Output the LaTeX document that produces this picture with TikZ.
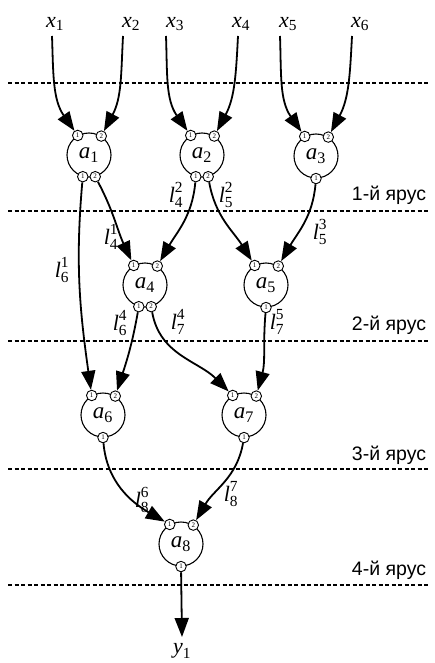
\documentclass[tikz,border=0pt]{standalone}
\usepackage{amsmath}
\usepackage{fontspec}
\setmainfont{Liberation Serif}
\newfontfamily\tierfont{Liberation Sans}
\usetikzlibrary{arrows.meta}

\newcommand\vlab[3]{$\textit{#1}^{\text{#2}}_{\text{#3}}$}
\newcommand\slab[2]{$\textit{#1}_{\text{#2}}$}

\begin{document}
\begin{tikzpicture}[x=1pt,y=1pt,
  elem/.style={circle,draw,line width=1.1pt,minimum size=44pt,inner sep=0pt,
    font=\fontsize{23}{26}\selectfont},
  port/.style={circle,draw,fill=white,line width=0.9pt,minimum size=10.5pt,
    inner sep=0pt,font=\fontsize{7}{7}\selectfont},
  wire/.style={line width=1.8pt,-{Triangle[length=19pt,width=14pt]}},
  lbl/.style={font=\fontsize{22}{25}\selectfont,inner sep=0pt},
  tier/.style={font=\tierfont\fontsize{19.5}{22}\selectfont,inner sep=0pt},
  level/.style={line width=1.1pt,dash pattern=on 4pt off 2.5pt}
]
\useasboundingbox (0,0) rectangle (434,-663);

% tier separators
\foreach \n/\y in {1/83,2/211,3/341,4/469,5/585}{
  \coordinate (d\n l) at (8,-\y);
  \coordinate (d\n r) at (430,-\y);
  \draw[level] (d\n l) -- (d\n r);
}

% tier captions
\node[tier] (t1) at (389,-195) {1-й ярус};
\node[tier] (t2) at (389,-325) {2-й ярус};
\node[tier] (t3) at (389,-455) {3-й ярус};
\node[tier] (t4) at (389,-570) {4-й ярус};

% inputs
\node[lbl] (x1) at (55,-24) {\slab{x}{1}};
\node[lbl] (x2) at (131,-24) {\slab{x}{2}};
\node[lbl] (x3) at (175,-24) {\slab{x}{3}};
\node[lbl] (x4) at (241,-24) {\slab{x}{4}};
\node[lbl] (x5) at (288,-24) {\slab{x}{5}};
\node[lbl] (x6) at (360,-24) {\slab{x}{6}};
\coordinate (s1) at (52,-36);
\coordinate (s2) at (123,-36);
\coordinate (s3) at (166,-36);
\coordinate (s4) at (238,-36);
\coordinate (s5) at (280,-36);
\coordinate (s6) at (352,-36);

% elements with two inputs and two outputs
\foreach \nm/\px/\py/\k in {a1/89/155/1,a2/202/155/2,a4/145/285/4}{
  \node[elem] (\nm) at (\px,-\py) {\slab{a}{\k}};
  \node[port] (\nm i1) at (\nm.120) {1};
  \node[port] (\nm i2) at (\nm.57) {2};
  \node[port] (\nm o1) at (\nm.-106) {1};
  \node[port] (\nm o2) at (\nm.-74) {2};
}
% elements with two inputs and one output
\foreach \nm/\px/\py/\k in {a3/316/156/3,a5/266/285/5,a6/103/415/6,a7/244/415/7,a8/181/544/8}{
  \node[elem] (\nm) at (\px,-\py) {\slab{a}{\k}};
  \node[port] (\nm i1) at (\nm.120) {1};
  \node[port] (\nm i2) at (\nm.57) {2};
  \node[port] (\nm o1) at (\nm.-90) {1};
}

% input wires
\draw[wire] (s1) to[out=-88,in=125] (a1i1);
\draw[wire] (s2) to[out=-93,in=62] (a1i2);
\draw[wire] (s3) to[out=-88,in=125] (a2i1);
\draw[wire] (s4) to[out=-93,in=62] (a2i2);
\draw[wire] (s5) to[out=-88,in=125] (a3i1);
\draw[wire] (s6) to[out=-93,in=62] (a3i2);

% links between elements
\draw[wire] (a1o1) to[out=-95,in=98] (a6i1);
\draw[wire] (a1o2) to[out=-62,in=115] (a4i1);
\draw[wire] (a2o1) to[out=-95,in=60] (a4i2);
\draw[wire] (a2o2) to[out=-80,in=122] (a5i1);
\draw[wire] (a3o1) to[out=-95,in=60] (a5i2);
\draw[wire] (a4o1) to[out=-100,in=72] (a6i2);
\draw[wire] (a4o2) to[out=-80,in=135] (a7i1);
\draw[wire] (a5o1) to[out=-95,in=75] (a7i2);
\draw[wire] (a6o1) to[out=-85,in=150] (a8i1);
\draw[wire] (a7o1) to[out=-100,in=60] (a8i2);

% output
\coordinate (yend) at (182,-637);
\draw[wire] (a8o1) -- (yend);
\node[lbl] (y1) at (182,-651) {\slab{y}{1}};

% link labels
\node[lbl] (l61) at (62,-270) {\vlab{l}{1}{6}};
\node[lbl] (l41) at (111,-237) {\vlab{l}{1}{4}};
\node[lbl] (l42) at (176,-195) {\vlab{l}{2}{4}};
\node[lbl] (l52) at (226,-195) {\vlab{l}{2}{5}};
\node[lbl] (l53) at (320,-232) {\vlab{l}{3}{5}};
\node[lbl] (l64) at (120,-323) {\vlab{l}{4}{6}};
\node[lbl] (l74) at (178,-322) {\vlab{l}{4}{7}};
\node[lbl] (l75) at (277,-322) {\vlab{l}{5}{7}};
\node[lbl] (l86) at (142,-500) {\vlab{l}{6}{8}};
\node[lbl] (l87) at (231,-494) {\vlab{l}{7}{8}};
\end{tikzpicture}
\end{document}
